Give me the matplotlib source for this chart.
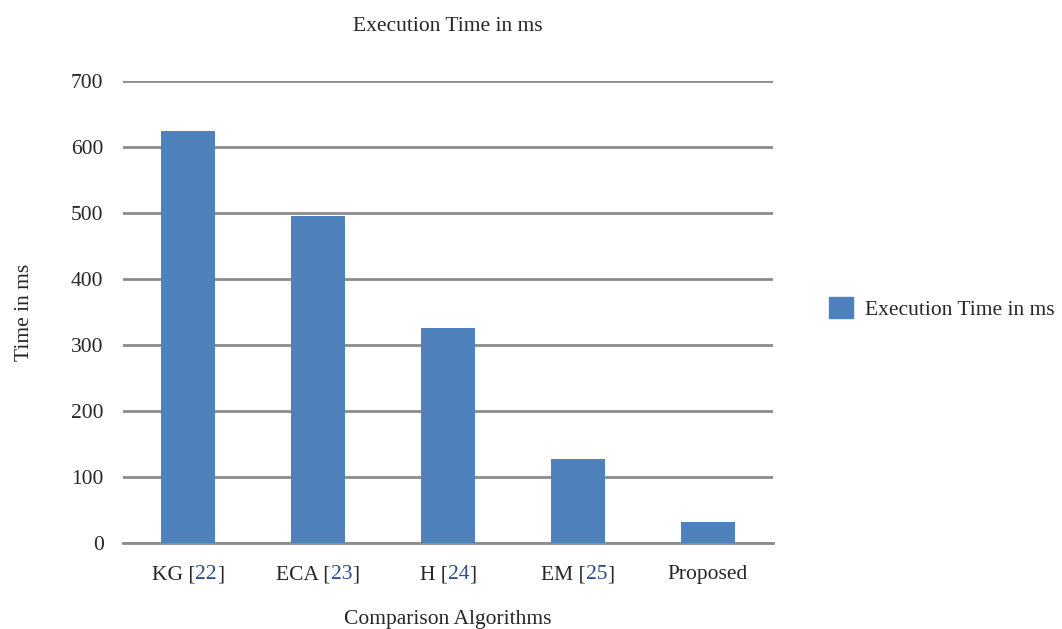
import matplotlib.pyplot as plt
from matplotlib.offsetbox import TextArea, HPacker, AnnotationBbox
from matplotlib.patches import Patch

plt.rcParams['font.family'] = ['Liberation Serif', 'DejaVu Serif']

# algorithm names, reference numbers and execution times (ms)
names = ['KG', 'ECA', 'H', 'EM', 'Proposed']
refs = ['22', '23', '24', '25', '']
times = [624, 495, 326, 127, 32]

bar_color = '#4f81bd'
ref_color = '#2a4d8a'
text_color = '#262626'
grid_color = '#8c8c8c'
fs = 15.5

fig = plt.figure(figsize=(10.62, 6.29), dpi=100)
ax = fig.add_axes([0.1158, 0.1367, 0.6121, 0.7345])

x = list(range(len(names)))
ax.bar(x, times, width=0.41, color=bar_color, zorder=3)

ax.set_xlim(-0.5, len(names) - 0.5)
ax.set_ylim(0, 700)
ax.set_yticks(range(0, 701, 100))
ax.yaxis.grid(True, color=grid_color, linewidth=2, zorder=0)
ax.set_axisbelow(True)
for s in ['top', 'right', 'left']:
    ax.spines[s].set_visible(False)
ax.spines['bottom'].set_color(grid_color)
ax.spines['bottom'].set_linewidth(2)
ax.tick_params(axis='y', length=0, labelsize=fs, pad=14, labelcolor=text_color)
ax.tick_params(axis='x', length=0)
ax.set_xticks(x)
ax.set_xticklabels([])

# category labels with blue reference numbers
for i, (n, r) in enumerate(zip(names, refs)):
    if r:
        parts = [TextArea(n + ' [', textprops=dict(size=fs, color=text_color)),
                 TextArea(r, textprops=dict(size=fs, color=ref_color)),
                 TextArea(']', textprops=dict(size=fs, color=text_color))]
    else:
        parts = [TextArea(n, textprops=dict(size=fs, color=text_color))]
    box = HPacker(children=parts, align='baseline', pad=0, sep=0)
    ab = AnnotationBbox(box, (i, 0), xycoords=('data', 'axes fraction'),
                        xybox=(0, -23), boxcoords='offset points',
                        frameon=False, box_alignment=(0.5, 0.5))
    ax.add_artist(ab)

ax.set_title('Execution Time in ms', fontsize=fs, pad=36, color=text_color)
ax.set_xlabel('Comparison Algorithms', fontsize=fs, labelpad=44.5, color=text_color)
ax.set_ylabel('Time in ms', fontsize=fs, labelpad=27, color=text_color)

fig.legend(handles=[Patch(color=bar_color, label='Execution Time in ms')],
           loc='center left', bbox_to_anchor=(0.7624, 0.51), frameon=False,
           fontsize=fs, handlelength=1.1, handleheight=1.1, handletextpad=0.56,
           labelcolor=text_color)

fig.savefig('out.png', dpi=100)
